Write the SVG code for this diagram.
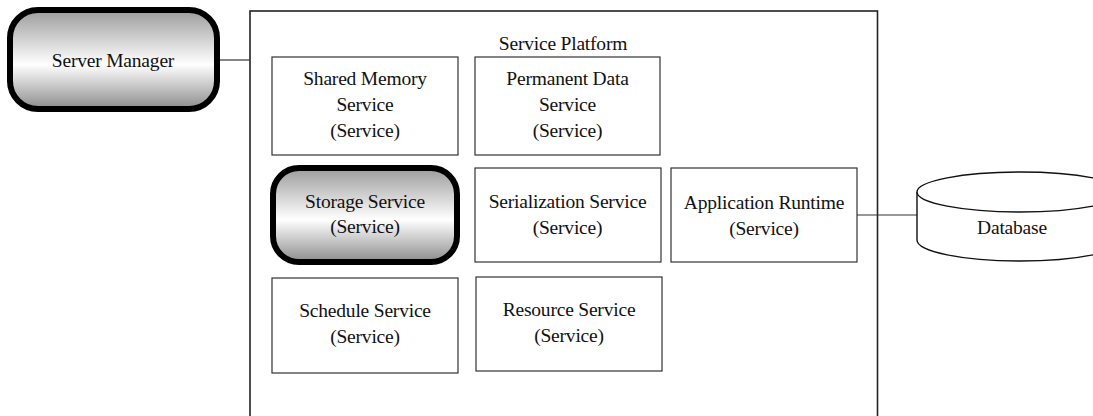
<svg xmlns="http://www.w3.org/2000/svg" width="1093" height="416" viewBox="0 0 1093 416">
<defs>
<linearGradient id="g" x1="0" y1="0" x2="0" y2="1">
<stop offset="0" stop-color="#9c9c9c"/>
<stop offset="0.55" stop-color="#ffffff"/>
<stop offset="1" stop-color="#8c8c8c"/>
</linearGradient>
</defs>
<style>
text{font-family:"Liberation Serif","Times New Roman",serif;font-size:19.5px;letter-spacing:-0.2px;fill:#111;text-anchor:middle}
.box{fill:#fff;stroke:#333;stroke-width:1.2}
.thick{fill:url(#g);stroke:#000;stroke-width:6}
.ln{stroke:#333;stroke-width:1.2;fill:none}
</style>
<rect width="1093" height="416" fill="#fff"/>
<g id="platform">
<rect x="250" y="11" width="627.5" height="420" fill="#fff" stroke="#222" stroke-width="1.6"/>
<text x="563" y="50">Service Platform</text>
</g>
<g id="connectors">
<line class="ln" x1="220" y1="60" x2="250" y2="60"/>
<line class="ln" x1="857" y1="215" x2="917" y2="215"/>
</g>
<g id="server-manager">
<rect class="thick" x="10" y="10" width="207" height="99" rx="28"/>
<text x="113" y="67">Server Manager</text>
</g>
<g id="shared-memory">
<rect class="box" x="272" y="57" width="186" height="98"/>
<text x="365" y="85">Shared Memory</text>
<text x="365" y="111">Service</text>
<text x="365" y="137">(Service)</text>
</g>
<g id="permanent-data">
<rect class="box" x="475" y="57" width="185" height="98"/>
<text x="567.5" y="85">Permanent Data</text>
<text x="567.5" y="111">Service</text>
<text x="567.5" y="137">(Service)</text>
</g>
<g id="storage">
<rect class="thick" x="273" y="168" width="184" height="94" rx="26"/>
<text x="365" y="208">Storage Service</text>
<text x="365" y="233">(Service)</text>
</g>
<g id="serialization">
<rect class="box" x="475" y="168" width="186" height="94"/>
<text x="567.5" y="208">Serialization Service</text>
<text x="567.5" y="234">(Service)</text>
</g>
<g id="app-runtime">
<rect class="box" x="671" y="168" width="186" height="94"/>
<text x="764" y="209">Application Runtime</text>
<text x="764" y="235">(Service)</text>
</g>
<g id="schedule">
<rect class="box" x="272" y="278" width="186" height="95"/>
<text x="365" y="317">Schedule Service</text>
<text x="365" y="343">(Service)</text>
</g>
<g id="resource">
<rect class="box" x="476" y="277" width="186" height="94"/>
<text x="569" y="316">Resource Service</text>
<text x="569" y="342">(Service)</text>
</g>
<g id="database">
<path d="M917,192 L917,240 A103,21 0 0 0 1123,240 L1123,192" fill="#fff" stroke="#111" stroke-width="1.4"/>
<ellipse cx="1020" cy="192" rx="103" ry="20" fill="#fff" stroke="#111" stroke-width="1.4"/>
<text x="1012" y="234">Database</text>
</g>
</svg>
